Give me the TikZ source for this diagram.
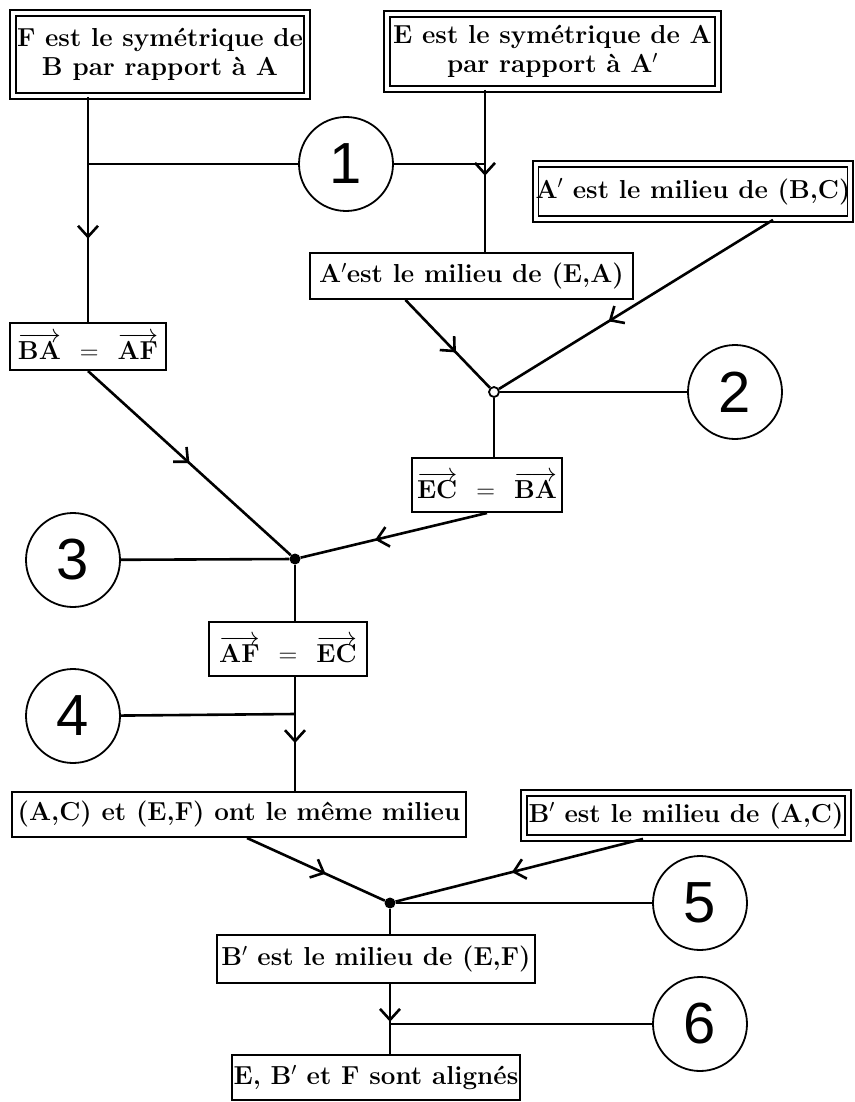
\RequirePackage{fix-cm}
\documentclass[tikz,border=0pt]{standalone}
\usepackage{fontspec}
\newfontfamily\numfont{Liberation Sans}
\usetikzlibrary{arrows.meta,calc,decorations.markings}
\newcommand{\vect}[1]{$\overrightarrow{\textbf{#1}}$}
\newcommand{\veq}{\hspace{19pt}$=$\hspace{19pt}}
\tikzset{
  box/.style={draw,line width=2pt,inner sep=0pt,align=center,
    font=\fontsize{26}{29}\selectfont\bfseries},
  dbox/.style={box,double,double distance=4pt,line width=1.8pt},
  num/.style={draw,circle,line width=1.8pt,minimum size=94pt,inner sep=0pt,
    font=\fontsize{58}{58}\selectfont\numfont},
  link/.style={line width=2.6pt},
  midarrow/.style={postaction={decorate},decoration={markings,
    mark=at position #1 with {\arrow{Straight Barb[length=11pt,width=20pt]}}}},
  dot/.style={circle,fill,inner sep=0pt,minimum size=11pt},
  odot/.style={circle,draw,fill=white,line width=1.8pt,inner sep=0pt,minimum size=10pt},
}
\begin{document}
\begin{tikzpicture}[x=1pt,y=-1pt]
\useasboundingbox (0,0) rectangle (854,1102);
% hypotheses and intermediate results
\node[dbox,minimum width=294pt,minimum height=83pt] (symF) at (160,54.5) {F est le symétrique de\\B par rapport à A};
\node[dbox,minimum width=331pt,minimum height=75pt] (symE) at (552.5,51.5) {E est le symétrique de A\\par rapport à A$'$};
\node[dbox,minimum width=312pt,minimum height=55pt] (milBC) at (693,191.5) {A$'$ est le milieu de (B,C)};
\node[box,minimum width=323pt,minimum height=46pt] (milEA) at (471.5,276) {A$'$est le milieu de (E,A)};
\node[box,minimum width=156pt,minimum height=47pt] (vecBA) at (88,346.5) {\vect{BA}\veq\vect{AF}};
\node[box,minimum width=150pt,minimum height=54pt] (vecEC) at (487,485) {\vect{EC}\veq\vect{BA}};
\node[box,minimum width=158pt,minimum height=54pt] (vecAF) at (288,649) {\vect{AF}\veq\vect{EC}};
\node[box,minimum width=454pt,minimum height=45pt] (memeMil) at (239,814.5) {(A,C) et (E,F) ont le même milieu};
\node[dbox,minimum width=324pt,minimum height=45pt] (milAC) at (686,815.5) {B$'$ est le milieu de (A,C)};
\node[box,minimum width=318pt,minimum height=48pt] (milEF) at (376,959) {B$'$ est le milieu de (E,F)};
\node[box,minimum width=288pt,minimum height=45pt] (align) at (376,1077.5) {E, B$'$ et F sont alignés};
% numbered steps
\node[num] (c1) at (346,164) {1};
\node[num] (c2) at (735,392) {2};
\node[num] (c3) at (73,560) {3};
\node[num] (c4) at (73,716) {4};
\node[num] (c5) at (700,903) {5};
\node[num] (c6) at (700,1024) {6};
% junctions
\coordinate (k1f) at (88,164);
\coordinate (k1e) at (485,164);
\node[odot] (j2) at (494,392) {};
\node[dot] (j3) at (295,559) {};
\coordinate (k4) at (295,714);
\node[dot] (j5) at (390,903) {};
\coordinate (k6) at (390,1024);
% step 1
\draw[link,midarrow=0.63] (symF.south -| vecBA) -- (vecBA.north);
\draw[link,midarrow=0.53] (symE.south -| k1e) -- (milEA.north -| k1e);
\draw[link] (k1f) -- (c1);
\draw[link] (c1) -- (k1e);
% step 2
\draw[link,midarrow=0.6] ($(milEA.south)+(-66,0)$) -- (j2);
\draw[link,midarrow=0.6] ($(milBC.south)+(80,0)$) -- (j2);
\draw[link] (j2) -- (c2);
\draw[link] (j2) -- (vecEC.north -| j2);
% step 3
\draw[link,midarrow=0.5] (vecBA.south) -- (j3);
\draw[link,midarrow=0.6] (vecEC.south) -- (j3);
\draw[link] (c3) -- (j3);
\draw[link] (j3) -- (vecAF.north -| j3);
% step 4
\draw[link,midarrow=0.58] (vecAF.south -| j3) -- (memeMil.north -| j3);
\draw[link] (c4) -- (k4);
% step 5
\draw[link,midarrow=0.57] ($(memeMil.south)+(8,0)$) -- (j5);
\draw[link,midarrow=0.53] ($(milAC.south)+(-43,0)$) -- (j5);
\draw[link] (j5) -- (c5);
\draw[link] (j5) -- (milEF.north -| j5);
% step 6
\draw[link,midarrow=0.54] (milEF.south -| j5) -- (align.north -| j5);
\draw[link] (k6) -- (c6);
\end{tikzpicture}
\end{document}
